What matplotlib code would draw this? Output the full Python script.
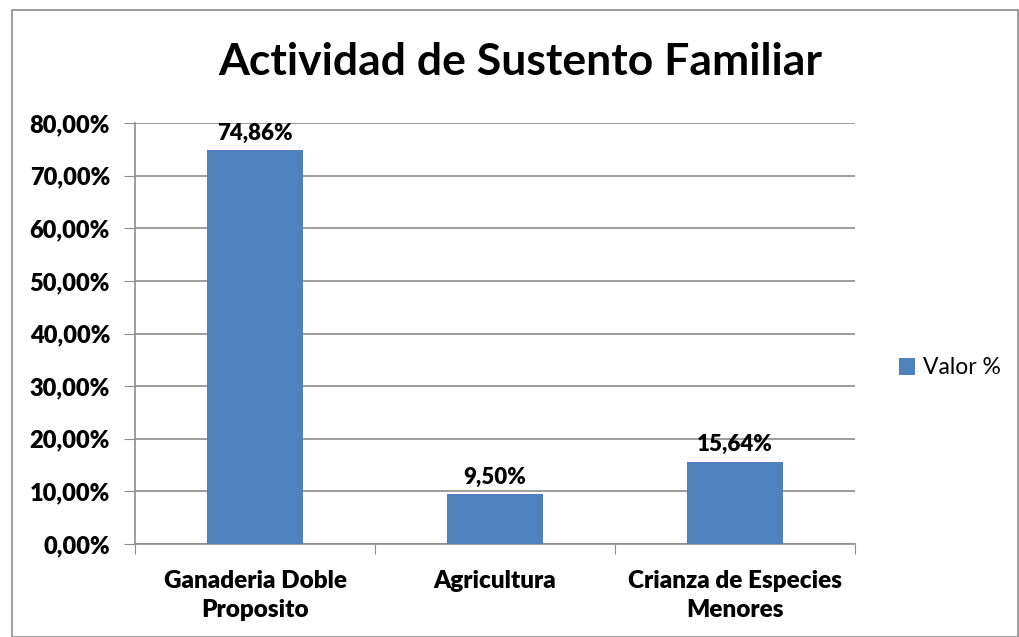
import matplotlib.pyplot as plt
import matplotlib.patches as mpatches
from matplotlib.ticker import FuncFormatter

categories = ["Ganaderia Doble\nProposito", "Agricultura", "Crianza de Especies\nMenores"]
values = [0.7486, 0.0950, 0.1564]
yticks = [0, 0.1, 0.2, 0.3, 0.4, 0.5, 0.6, 0.7, 0.8]

plt.rcParams['font.family'] = ['Lato', 'DejaVu Sans']
W, H = 1019, 637
fig = plt.figure(figsize=(W / 100, H / 100), dpi=100)

# outer chart border
fig.patches.append(mpatches.Rectangle((12 / W, 0), (W - 13) / W, (H - 10) / H,
                                      transform=fig.transFigure, fill=False,
                                      edgecolor='#8c8c8c', lw=1.2))

ax = fig.add_axes([135 / W, 1 - 544 / H, 720 / W, 421 / H])
x = list(range(len(categories)))
ax.bar(x, values, width=0.4, color='#4f81bd', zorder=3, label='Valor %')
for xi, v in zip(x, values):
    ax.text(xi, v + 0.012, f"{v * 100:.2f}%".replace('.', ','), ha='center', va='bottom',
            fontsize=16, fontweight='heavy', zorder=4)

ax.set_xlim(-0.5, 2.5)
ax.set_ylim(0, 0.8)
ax.set_yticks(yticks)
ax.yaxis.set_major_formatter(FuncFormatter(lambda v, p: f"{v * 100:.2f}%".replace('.', ',')))
ax.set_xticks([-0.5, 0.5, 1.5, 2.5], minor=False)
ax.set_xticklabels([])
ax.set_xticks(x, minor=True)
ax.set_xticklabels(categories, minor=True, fontsize=17.5, fontweight='heavy', linespacing=1.35)
ax.tick_params(axis='x', which='major', length=7, color='#8c8c8c', direction='out')
ax.tick_params(axis='x', which='minor', length=0, pad=19)
ax.tick_params(axis='y', length=8, color='#8c8c8c', labelsize=17, pad=10)
for lbl in ax.get_yticklabels():
    lbl.set_fontweight('heavy')
ax.grid(axis='y', color='#8c8c8c', lw=1.2, zorder=0)
for s in ['top', 'right']:
    ax.spines[s].set_visible(False)
for s in ['left', 'bottom']:
    ax.spines[s].set_color('#8c8c8c')
    ax.spines[s].set_linewidth(1.2)

fig.text(520 / W, 1 - 62 / H, "Actividad de Sustento Familiar", ha='center', va='center',
         fontsize=32, fontweight='bold')

fig.legend(loc='center left', bbox_to_anchor=(878 / W, 1 - 368 / H), frameon=False,
           fontsize=16.5, handlelength=0.7, handleheight=0.7, handletextpad=0.35)

fig.savefig('out.png', dpi=100)
